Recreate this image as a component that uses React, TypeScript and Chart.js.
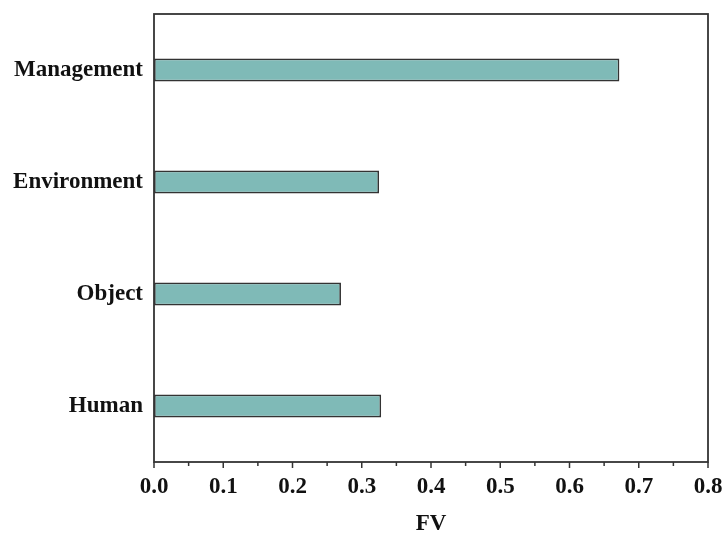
import React, { useEffect, useRef } from "react";
import { Chart, registerables } from "chart.js";

Chart.register(...registerables);

const categories = ["Management", "Environment", "Object", "Human"];
const fvValues = [0.672, 0.325, 0.27, 0.328];
const xTickLabels = ["0.0", "0.1", "0.2", "0.3", "0.4", "0.5", "0.6", "0.7", "0.8"];
const xTitle = "FV";

const FONT = "'Liberation Serif', 'Times New Roman', serif";
const AXIS_COLOR = "#333333";

const framePlugin = {
  id: "frame",
  afterDraw(chart: any) {
    const { ctx, chartArea } = chart;
    const xs = chart.scales.x;
    ctx.save();
    ctx.strokeStyle = AXIS_COLOR;
    ctx.lineWidth = 1.8;
    ctx.strokeRect(chartArea.left, chartArea.top, chartArea.right - chartArea.left, chartArea.bottom - chartArea.top);
    ctx.lineWidth = 1.5;
    for (let i = 0; i <= 16; i++) {
      const v = i * 0.05;
      const px = xs.getPixelForValue(v);
      const len = i % 2 === 0 ? 6 : 4;
      ctx.beginPath();
      ctx.moveTo(px, chartArea.bottom);
      ctx.lineTo(px, chartArea.bottom + len);
      ctx.stroke();
    }
    ctx.restore();
  },
};

export default function App() {
  const ref = useRef<HTMLCanvasElement | null>(null);
  useEffect(() => {
    if (!ref.current) return;
    const chart = new Chart(ref.current, {
      type: "bar",
      data: {
        labels: categories,
        datasets: [
          {
            data: fvValues,
            backgroundColor: "#7fbab7",
            borderColor: "#333333",
            borderWidth: 1.7,
            borderSkipped: false,
            barPercentage: 0.205,
            categoryPercentage: 1,
          },
        ],
      },
      options: {
        indexAxis: "y",
        animation: false,
        responsive: false,
        maintainAspectRatio: false,
        layout: { padding: { top: 14, right: 15, bottom: 0, left: 0 } },
        plugins: { legend: { display: false }, tooltip: { enabled: false } },
        scales: {
          x: {
            type: "linear",
            min: 0,
            max: 0.8,
            border: { display: false },
            grid: { display: false, drawTicks: false },
            ticks: {
              stepSize: 0.1,
              padding: 11,
              color: "#111",
              font: { family: FONT, size: 23, weight: "bold" },
              callback: (_v: any, i: number) => xTickLabels[i],
            },
            title: {
              display: true,
              text: xTitle,
              color: "#111",
              font: { family: FONT, size: 23, weight: "bold" },
              padding: { top: 0, bottom: -2 },
            },
            afterFit: (s: any) => {
              s.height = 74;
              s.paddingLeft = 0;
              s.paddingRight = 0;
            },
          },
          y: {
            type: "category",
            border: { display: false },
            grid: { display: false, drawTicks: false },
            ticks: {
              padding: 11,
              color: "#111",
              font: { family: FONT, size: 23, weight: "bold" },
            },
            afterFit: (s: any) => {
              s.width = 154;
              s.paddingTop = 0;
              s.paddingBottom = 0;
            },
          },
        },
      },
      plugins: [framePlugin],
    });
    return () => chart.destroy();
  }, []);
  return (
    <div style={{ position: "absolute", left: 0, top: 0, width: 723, height: 536, background: "#fff" }}>
      <canvas ref={ref} width={723} height={536} style={{ width: 723, height: 536 }} />
    </div>
  );
}
